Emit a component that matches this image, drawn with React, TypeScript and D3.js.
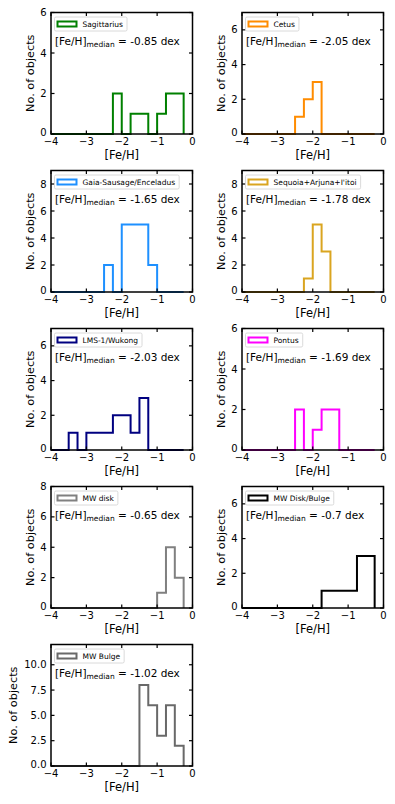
import React, { useRef, useEffect } from "react";
import * as d3 from "d3";

// bin edges: -4 .. -0.25 in steps of 0.25 (15 bins)
const binEdges = d3.range(16).map((i) => -4 + i * 0.25);

const names = [
  "Sagittarius",
  "Cetus",
  "Gaia-Sausage/Enceladus",
  "Sequoia+Arjuna+I'itoi",
  "LMS-1/Wukong",
  "Pontus",
  "MW disk",
  "MW Disk/Bulge",
  "MW Bulge",
];

const colors = [
  "#008000",
  "#ff8c00",
  "#1e90ff",
  "#daa520",
  "#000080",
  "#ff00ff",
  "#808080",
  "#000000",
  "#696969",
];

const medians = ["-0.85", "-2.05", "-1.65", "-1.78", "-2.03", "-1.69", "-0.65", "-0.7", "-1.02"];

const counts = [
  [0, 0, 0, 0, 0, 0, 0, 2, 0, 1, 1, 0, 1, 2, 2],
  [0, 0, 0, 0, 0, 0, 1, 2, 3, 0, 0, 0, 0, 0, 0],
  [0, 0, 0, 0, 0, 0, 2, 0, 5, 5, 5, 2, 0, 0, 0],
  [0, 0, 0, 0, 0, 0, 0, 1, 5, 3, 0, 0, 0, 0, 0],
  [0, 0, 1, 0, 1, 1, 1, 2, 2, 1, 3, 0, 0, 0, 0],
  [0, 0, 0, 0, 0, 0, 2, 0, 1, 2, 2, 0, 0, 0, 0],
  [0, 0, 0, 0, 0, 0, 0, 0, 0, 0, 0, 0, 1, 4, 2],
  [0, 0, 0, 0, 0, 0, 0, 0, 0, 1, 1, 1, 1, 3, 3],
  [0, 0, 0, 0, 0, 0, 0, 0, 0, 0, 8, 6, 3, 6, 2],
];

const yMax = [6, 7, 9, 9, 7, 6, 8, 7, 12];
const yTicks = [
  [0, 2, 4, 6],
  [0, 2, 4, 6],
  [0, 2, 4, 6, 8],
  [0, 2, 4, 6, 8],
  [0, 2, 4, 6],
  [0, 2, 4, 6],
  [0, 2, 4, 6, 8],
  [0, 2, 4, 6],
  [0, 2.5, 5, 7.5, 10],
];
const xTicks = [-4, -3, -2, -1, 0];

const FONT = "DejaVu Sans, sans-serif";

const App = () => {
  const svgRef = useRef(null);

  useEffect(() => {
    document.body.style.margin = "0";
    const svg = d3.select(svgRef.current);
    svg.selectAll("*").remove();

    const colX = [51, 242];
    const rowY = [12.5, 170.5, 328.5, 486.5, 644.5];
    const w = 141.5;
    const h = 121.5;
    const fmtMinus = (s) => s.replace("-", "\u2212");

    names.forEach((name, k) => {
      const left = colX[k % 2];
      const top = rowY[Math.floor(k / 2)];
      const g = svg.append("g").attr("transform", `translate(${left},${top})`);

      const x = d3.scaleLinear().domain([-4, 0]).range([0, w]);
      const y = d3.scaleLinear().domain([0, yMax[k]]).range([h, 0]);

      // step outline
      const pts = [[binEdges[0], 0]];
      counts[k].forEach((c, i) => {
        pts.push([binEdges[i], c]);
        pts.push([binEdges[i + 1], c]);
      });
      pts.push([binEdges[binEdges.length - 1], 0]);
      const line = d3
        .line()
        .x((d) => x(d[0]))
        .y((d) => y(d[1]));
      g.append("path")
        .attr("d", line(pts))
        .attr("fill", "none")
        .attr("stroke", colors[k])
        .attr("stroke-width", 2)
        .attr("stroke-linejoin", "miter");

      // ticks (inward, all sides)
      const fmtY = k === 8 ? d3.format(".1f") : d3.format("d");
      const tl = 3.5;
      xTicks.forEach((t) => {
        g.append("line").attr("x1", x(t)).attr("x2", x(t)).attr("y1", h).attr("y2", h - tl).attr("stroke", "#000").attr("stroke-width", 1.2);
        g.append("line").attr("x1", x(t)).attr("x2", x(t)).attr("y1", 0).attr("y2", tl).attr("stroke", "#000").attr("stroke-width", 1.2);
        g.append("text")
          .attr("x", x(t))
          .attr("y", h + 11)
          .attr("text-anchor", "middle")
          .attr("font-family", FONT)
          .attr("font-size", 10)
          .text(fmtMinus(String(t)));
      });
      yTicks[k].forEach((t) => {
        g.append("line").attr("x1", 0).attr("x2", tl).attr("y1", y(t)).attr("y2", y(t)).attr("stroke", "#000").attr("stroke-width", 1.2);
        g.append("line").attr("x1", w).attr("x2", w - tl).attr("y1", y(t)).attr("y2", y(t)).attr("stroke", "#000").attr("stroke-width", 1.2);
        g.append("text")
          .attr("x", -4.5)
          .attr("y", t === 0 ? y(t) - 1.5 : y(t))
          .attr("dy", "0.35em")
          .attr("text-anchor", "end")
          .attr("font-family", FONT)
          .attr("font-size", 10)
          .text(fmtY(t));
      });

      // frame
      g.append("rect")
        .attr("width", w)
        .attr("height", h)
        .attr("fill", "none")
        .attr("stroke", "#000")
        .attr("stroke-width", 1.5);

      // axis labels
      g.append("text")
        .attr("x", w / 2)
        .attr("y", h + 25)
        .attr("text-anchor", "middle")
        .attr("font-family", FONT)
        .attr("font-size", 11.5)
        .text("[Fe/H]");
      g.append("text")
        .attr("transform", `translate(${k === 8 ? -34 : -17},${h / 2}) rotate(-90)`)
        .attr("text-anchor", "middle")
        .attr("font-family", FONT)
        .attr("font-size", 11.3)
        .text("No. of objects");

      // legend
      const lg = g.append("g").attr("transform", "translate(3.5,4.5)");
      const box = lg
        .append("rect")
        .attr("rx", 1.5)
        .attr("height", 14)
        .attr("fill", "rgba(255,255,255,0.8)")
        .attr("stroke", "#d0d0d0")
        .attr("stroke-width", 0.8);
      lg.append("rect")
        .attr("x", 3)
        .attr("y", 4.5)
        .attr("width", 19)
        .attr("height", 5)
        .attr("fill", "none")
        .attr("stroke", colors[k])
        .attr("stroke-width", 2);
      const lt = lg
        .append("text")
        .attr("x", 28)
        .attr("y", 9.8)
        .attr("font-family", FONT)
        .attr("font-size", 7.5)
        .text(name);
      const tw = lt.node().getComputedTextLength();
      box.attr("width", 28 + tw + 4);

      // median annotation
      const mt = g
        .append("text")
        .attr("x", 4)
        .attr("y", 32)
        .attr("font-family", FONT)
        .attr("font-size", 10.5);
      mt.append("tspan").text("[Fe/H]");
      mt.append("tspan").attr("font-size", 7.5).attr("dy", 2).text("median");
      mt.append("tspan").attr("dy", -2).text(` = ${medians[k]} dex`);
    });
  }, []);

  return (
    <svg
      ref={svgRef}
      width={395}
      height={804}
      style={{ display: "block", background: "#fff" }}
    ></svg>
  );
};

export default App;
